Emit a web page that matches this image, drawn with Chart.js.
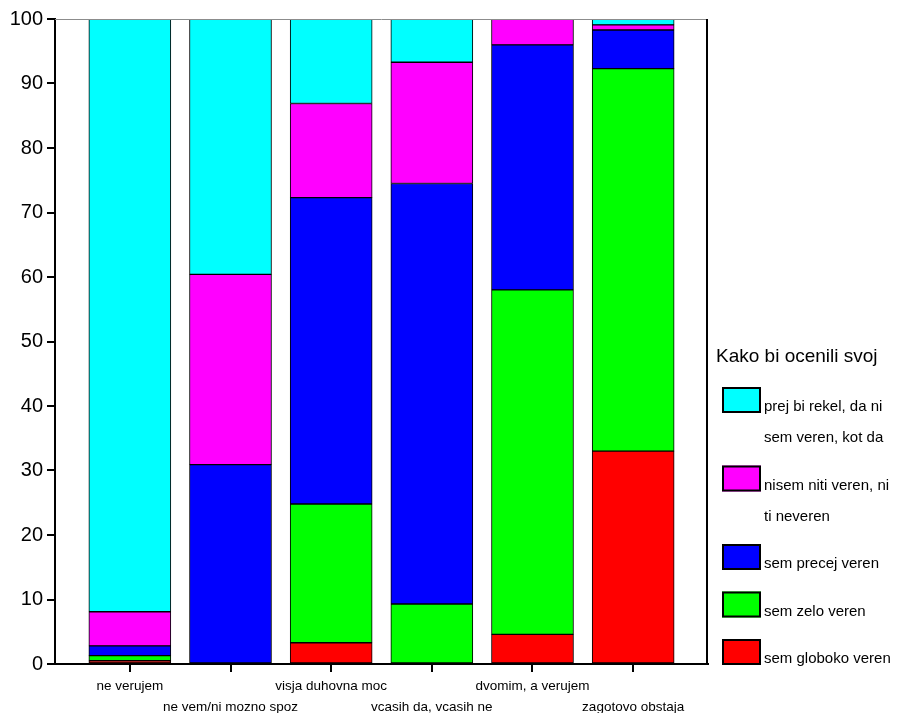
<!DOCTYPE html>
<html>
<head>
<meta charset="utf-8">
<script src="https://cdn.jsdelivr.net/npm/chart.js@4.4.1/dist/chart.umd.min.js"></script>
<style>
  html, body { margin: 0; padding: 0; background: #ffffff; }
  #wrap { width: 900px; height: 713px; }
</style>
</head>
<body>
<div id="wrap"><canvas id="c" width="900" height="713"></canvas></div>
<script>
const categories = ["ne verujem", "ne vem/ni mozno spoz", "visja duhovna moc", "vcasih da, vcasih ne", "dvomim, a verujem", "zagotovo obstaja"];
const yTicks = [0, 10, 20, 30, 40, 50, 60, 70, 80, 90, 100];
const legendTitle = "Kako bi ocenili svoj";

const seriesNames = ["sem globoko veren", "sem zelo veren", "sem precej veren", "nisem niti veren, ni ti neveren", "prej bi rekel, da ni sem veren, kot da"];
const legendLines = [["sem globoko veren"], ["sem zelo veren"], ["sem precej veren"], ["nisem niti veren, ni", "ti neveren"], ["prej bi rekel, da ni", "sem veren, kot da"]];
const seriesColors = ["#ff0000", "#00ff00", "#0000ff", "#ff00ff", "#00ffff"];

const globoko = [0.5, 0, 3.3, 0, 4.6, 33.0];
const zelo    = [0.8, 0, 21.5, 9.3, 53.4, 59.3];
const precej  = [1.5, 30.9, 47.5, 65.2, 38.0, 6.0];
const niti    = [5.3, 29.5, 14.6, 18.8, 4.0, 0.8];
const prej    = [91.9, 39.6, 13.1, 6.7, 0, 0.9];
const seriesValues = [globoko, zelo, precej, niti, prej];

const FONT = "Arial, 'Liberation Sans', Helvetica, sans-serif";

const datasets = seriesValues.map((vals, s) => ({
  label: seriesNames[s],
  data: vals.map((v, i) => ({ x: i, y: v })),
  backgroundColor: seriesColors[s],
  borderColor: "#000000",
  borderWidth: 1,
  borderSkipped: false,
  barThickness: 82,
  xAxisID: "x",
  yAxisID: "y"
}));

const framePlugin = {
  id: "frame",
  afterDraw(chart) {
    const ctx = chart.ctx;
    const a = chart.chartArea;
    ctx.save();
    ctx.strokeStyle = "#8c8c8c";
    ctx.lineWidth = 1;
    ctx.beginPath();
    ctx.moveTo(a.left, a.top + 0.5);
    ctx.lineTo(a.right, a.top + 0.5);
    ctx.stroke();
    ctx.strokeStyle = "#000000";
    ctx.lineWidth = 2;
    ctx.beginPath();
    ctx.moveTo(a.right - 1, a.top);
    ctx.lineTo(a.right - 1, a.bottom + 1);
    ctx.stroke();

    ctx.fillStyle = "#000000";
    ctx.textBaseline = "alphabetic";
    ctx.textAlign = "left";
    ctx.font = "19px " + FONT;
    ctx.fillText(legendTitle, 716, 362);

    ctx.font = "15px " + FONT;
    let top = 387;
    const boxX = 722, boxW = 39, boxH = 26, textX = 764, lineGap = 31, itemGap = 47.5;
    for (let k = chart.data.datasets.length - 1; k >= 0; k--) {
      const ds = chart.data.datasets[k];
      ctx.fillStyle = ds.backgroundColor;
      ctx.fillRect(boxX, top, boxW, boxH);
      ctx.strokeStyle = "#000000";
      ctx.lineWidth = 2;
      ctx.strokeRect(boxX + 1, top + 1, boxW - 2, boxH - 2);
      ctx.fillStyle = "#000000";
      const lines = legendLines[k];
      lines.forEach((ln, j) => ctx.fillText(ln, textX, top + 24 + j * lineGap));
      top += itemGap + (lines.length - 1) * lineGap;
    }
    ctx.restore();
  }
};

new Chart(document.getElementById("c"), {
  type: "bar",
  data: { datasets },
  options: {
    responsive: false,
    animation: false,
    devicePixelRatio: 1,
    layout: { padding: { top: 19, right: 192, left: 0, bottom: 0 } },
    plugins: { legend: { display: false }, tooltip: { enabled: false } },
    scales: {
      x: {
        type: "linear",
        position: "bottom",
        stacked: true,
        offset: false,
        bounds: "data",
        min: -0.7435,
        max: 5.7435,
        afterBuildTicks(axis) {
          axis.ticks = categories.map((c, i) => ({ value: i }));
        },
        afterFit(axis) { axis.height = 49; },
        grid: { offset: false, drawOnChartArea: false, drawTicks: true, tickLength: 8, color: "#000000", lineWidth: 2 },
        border: { display: true, color: "#000000", width: 2 },
        ticks: {
          autoSkip: false,
          maxRotation: 0,
          minRotation: 0,
          padding: 4,
          color: "#000000",
          font: { family: FONT, size: 13.5, lineHeight: 1.55 },
          callback(v, i) {
            const lbl = categories[i];
            return i % 2 === 0 ? lbl : ["", lbl];
          }
        }
      },
      y: {
        stacked: true,
        min: 0,
        max: 100,
        afterBuildTicks(axis) {
          axis.ticks = yTicks.map(v => ({ value: v }));
        },
        afterFit(axis) { axis.width = 55; },
        grid: { drawOnChartArea: false, drawTicks: true, tickLength: 8, color: "#000000", lineWidth: 2 },
        border: { display: true, color: "#000000", width: 2 },
        ticks: {
          padding: 4,
          color: "#000000",
          font: { family: FONT, size: 20 }
        }
      }
    }
  },
  plugins: [framePlugin]
});
</script>
</body>
</html>
